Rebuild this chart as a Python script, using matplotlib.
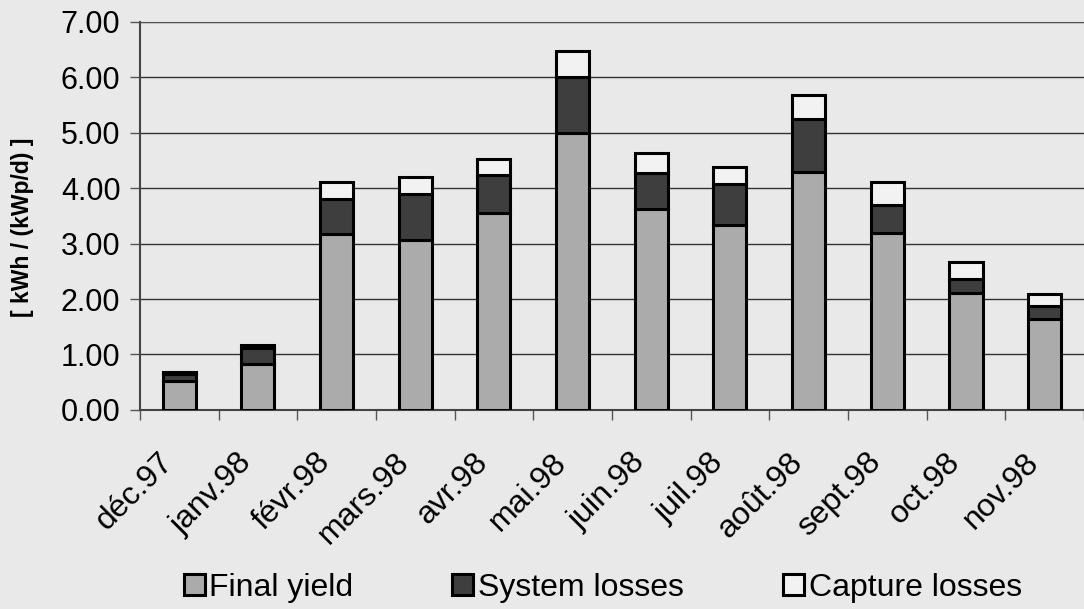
import matplotlib.pyplot as plt
import numpy as np

plt.rcParams['font.family'] = ['Liberation Sans', 'DejaVu Sans']

months = ['déc.97', 'janv.98', 'févr.98', 'mars.98', 'avr.98', 'mai.98',
          'juin.98', 'juil.98', 'août.98', 'sept.98', 'oct.98', 'nov.98']
final_yield = [0.52, 0.82, 3.17, 3.07, 3.55, 5.00, 3.63, 3.34, 4.30, 3.20, 2.11, 1.64]
system_losses = [0.13, 0.29, 0.63, 0.83, 0.69, 1.00, 0.65, 0.73, 0.94, 0.50, 0.25, 0.24]
capture_losses = [0.03, 0.06, 0.31, 0.30, 0.29, 0.48, 0.35, 0.32, 0.44, 0.41, 0.30, 0.21]

bg = '#e9e9e9'
fig = plt.figure(figsize=(10.84, 6.09), dpi=100, facecolor=bg)
ax = fig.add_axes([0.129, 0.327, 0.871, 0.637], facecolor=bg)

x = np.arange(len(months))
fy = np.array(final_yield)
sl = np.array(system_losses)
cl = np.array(capture_losses)
w = 0.42
ax.bar(x, fy, w, color='#ababab', edgecolor='black', linewidth=2.2, label='Final yield', zorder=3)
ax.bar(x, sl, w, bottom=fy, color='#3e3e3e', edgecolor='black', linewidth=2.2, label='System losses', zorder=3)
ax.bar(x, cl, w, bottom=fy + sl, color='#f2f2f2', edgecolor='black', linewidth=2.2, label='Capture losses', zorder=3)

ax.set_ylim(0, 7)
ax.set_xlim(-0.5, len(months) - 0.5)
ax.set_yticks(np.arange(0, 8, 1))
ax.set_yticklabels([f'{v:.2f}' for v in np.arange(0, 8, 1)], fontsize=22)
ax.yaxis.grid(True, color='#333333', linewidth=1, zorder=0)

# labels sit a little left of the bar centres, as in the original
ax.set_xticks(x - 0.27)
ax.set_xticklabels(months, rotation=45, ha='right', rotation_mode='anchor', fontsize=23)
ax.set_xticks(np.arange(-0.5, len(months), 1), minor=True)
ax.tick_params(axis='x', which='major', length=0, pad=27)
ax.tick_params(axis='x', which='minor', length=7, width=1, color='#555555')
ax.tick_params(axis='y', length=7, width=1, color='#555555', pad=7)

ax.spines['right'].set_visible(False)
ax.spines['top'].set_color('#555555')
ax.spines['left'].set_color('#444444')
ax.spines['left'].set_linewidth(1.5)
ax.spines['bottom'].set_color('#444444')
ax.spines['bottom'].set_linewidth(1.5)

fig.text(0.021, 0.627, '[ kWh / (kWp/d) ]', rotation=90, fontsize=16.5,
         fontweight='bold', ha='center', va='center')

fig.legend(loc='center', bbox_to_anchor=(0.556, 0.035), ncol=3, frameon=False,
           fontsize=23, handlelength=0.65, handleheight=0.65, handletextpad=0.15,
           columnspacing=3.1)

fig.savefig('out.png', dpi=100, facecolor=bg)
